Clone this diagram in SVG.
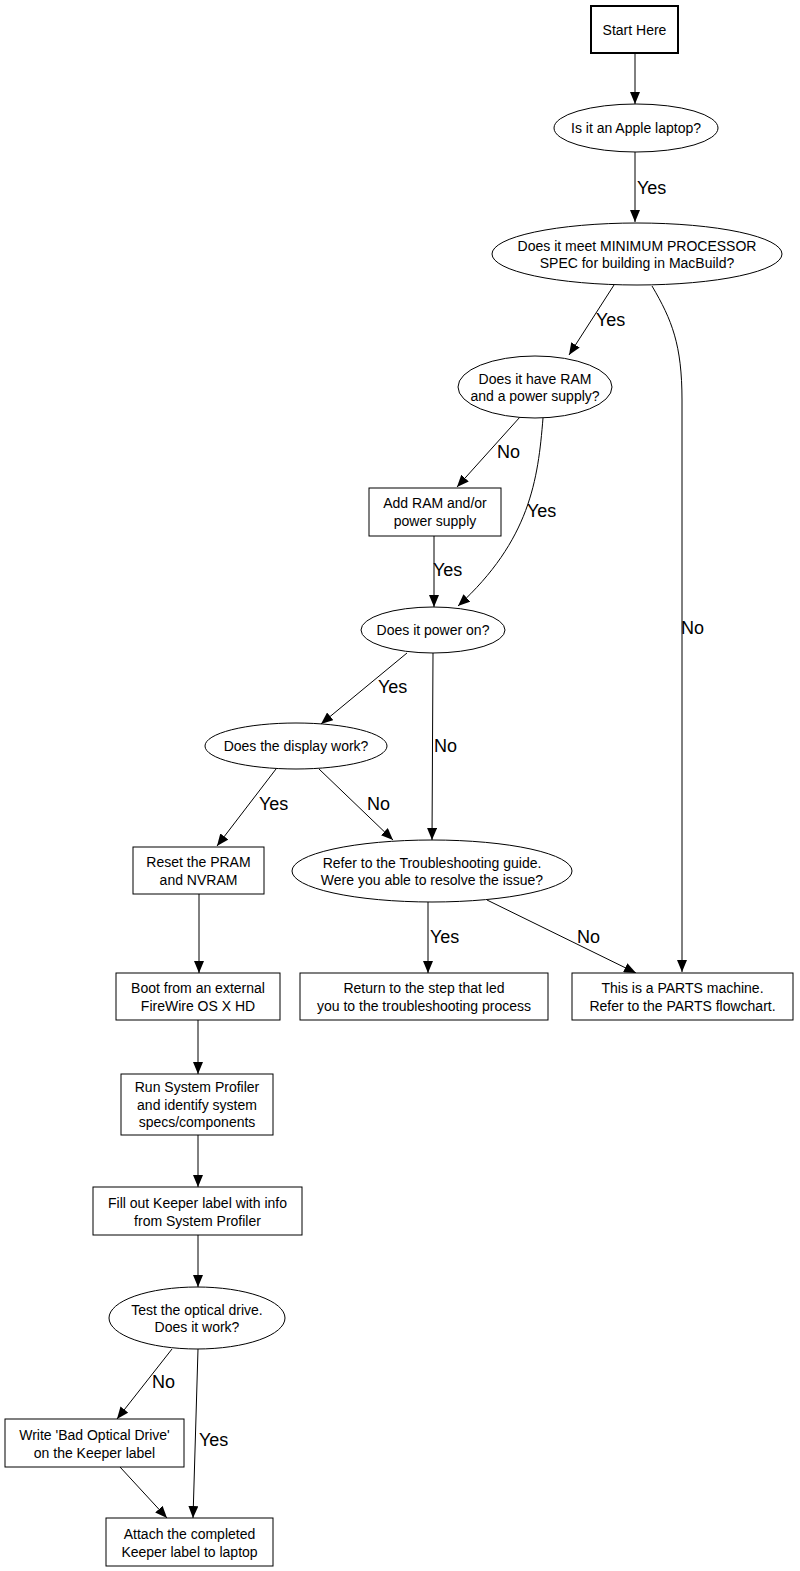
<svg xmlns="http://www.w3.org/2000/svg" width="800" height="1571" viewBox="0 0 800 1571">
<style>
.n{fill:#fff;stroke:#000;stroke-width:1}
.t{font-family:"Liberation Sans",Arial,sans-serif;font-size:14px;text-anchor:middle;fill:#000}
.l{font-family:"Liberation Sans",Arial,sans-serif;font-size:18px;fill:#000}
.e{fill:none;stroke:#000;stroke-width:1;marker-end:url(#a)}
</style>
<defs>
<marker id="a" viewBox="0 0 12 10" refX="12" refY="5" markerWidth="12" markerHeight="10" markerUnits="userSpaceOnUse" orient="auto">
<path d="M0,0 L12,5 L0,10 z" fill="#000"/>
</marker>
</defs>
<rect width="800" height="1571" fill="#fff"/>
<g id="edges">
<path class="e" d="M635,53 L635,104"/>
<path class="e" d="M635,152 L635,222"/>
<text class="l" x="637" y="194">Yes</text>
<path class="e" d="M614,285 L569,355"/>
<text class="l" x="596" y="326">Yes</text>
<path class="e" d="M652,286 C672,320 682,345 682,400 L682,972"/>
<text class="l" x="681" y="634">No</text>
<path class="e" d="M520,417 L457,487"/>
<text class="l" x="497" y="458">No</text>
<path class="e" d="M543,418 C538,480 530,540 458,606"/>
<text class="l" x="527" y="517">Yes</text>
<path class="e" d="M434,536 L434,607"/>
<text class="l" x="433" y="576">Yes</text>
<path class="e" d="M407,653 L321,724"/>
<text class="l" x="378" y="693">Yes</text>
<path class="e" d="M433,653 L432,840"/>
<text class="l" x="434" y="752">No</text>
<path class="e" d="M276,769 L217,846"/>
<text class="l" x="259" y="810">Yes</text>
<path class="e" d="M319,769 L393,840"/>
<text class="l" x="367" y="810">No</text>
<path class="e" d="M428,902 L428,973"/>
<text class="l" x="430" y="943">Yes</text>
<path class="e" d="M487,900 L636,973"/>
<text class="l" x="577" y="943">No</text>
<path class="e" d="M199,894 L199,973"/>
<path class="e" d="M198,1020 L198,1074"/>
<path class="e" d="M198,1135 L198,1187"/>
<path class="e" d="M198,1235 L198,1287"/>
<path class="e" d="M172,1349 L117,1419"/>
<text class="l" x="152" y="1388">No</text>
<path class="e" d="M198,1349 L193,1518"/>
<text class="l" x="199" y="1446">Yes</text>
<path class="e" d="M120,1467 L167,1518"/>
</g>
<g id="start"><rect class="n" x="591" y="6" width="87" height="47" stroke-width="2" style="stroke-width:2"/><text class="t" x="634.5" y="35">Start Here</text></g>
<g id="apple"><ellipse class="n" cx="636" cy="128" rx="82" ry="24"/><text class="t" x="636" y="133">Is it an Apple laptop?</text></g>
<g id="minspec"><ellipse class="n" cx="637" cy="254" rx="145" ry="31"/><text class="t" x="637" y="251">Does it meet MINIMUM PROCESSOR</text><text class="t" x="637" y="268">SPEC for building in MacBuild?</text></g>
<g id="ram"><ellipse class="n" cx="535" cy="387" rx="77" ry="31"/><text class="t" x="535" y="384">Does it have RAM</text><text class="t" x="535" y="401">and a power supply?</text></g>
<g id="addram"><rect class="n" x="369" y="488" width="132" height="48"/><text class="t" x="435" y="508">Add RAM and/or</text><text class="t" x="435" y="526">power supply</text></g>
<g id="poweron"><ellipse class="n" cx="433" cy="630" rx="72" ry="23"/><text class="t" x="433" y="635">Does it power on?</text></g>
<g id="display"><ellipse class="n" cx="296" cy="746" rx="91" ry="23"/><text class="t" x="296" y="751">Does the display work?</text></g>
<g id="trouble"><ellipse class="n" cx="432" cy="871" rx="140" ry="31"/><text class="t" x="432" y="868">Refer to the Troubleshooting guide.</text><text class="t" x="432" y="885">Were you able to resolve the issue?</text></g>
<g id="reset"><rect class="n" x="133" y="847" width="131" height="47"/><text class="t" x="198.5" y="867">Reset the PRAM</text><text class="t" x="198.5" y="885">and NVRAM</text></g>
<g id="return"><rect class="n" x="300" y="973" width="248" height="47"/><text class="t" x="424" y="993">Return to the step that led</text><text class="t" x="424" y="1011">you to the troubleshooting process</text></g>
<g id="parts"><rect class="n" x="572" y="973" width="221" height="47"/><text class="t" x="682.5" y="993">This is a PARTS machine.</text><text class="t" x="682.5" y="1011">Refer to the PARTS flowchart.</text></g>
<g id="boot"><rect class="n" x="116" y="973" width="164" height="47"/><text class="t" x="198" y="993">Boot from an external</text><text class="t" x="198" y="1011">FireWire OS X HD</text></g>
<g id="runsp"><rect class="n" x="121" y="1074" width="152" height="61"/><text class="t" x="197" y="1092">Run System Profiler</text><text class="t" x="197" y="1110">and identify system</text><text class="t" x="197" y="1127">specs/components</text></g>
<g id="fillout"><rect class="n" x="93" y="1187" width="209" height="48"/><text class="t" x="197.5" y="1208">Fill out Keeper label with info</text><text class="t" x="197.5" y="1226">from System Profiler</text></g>
<g id="optical"><ellipse class="n" cx="197" cy="1318" rx="88" ry="31"/><text class="t" x="197" y="1315">Test the optical drive.</text><text class="t" x="197" y="1332">Does it work?</text></g>
<g id="badoptical"><rect class="n" x="5" y="1419" width="179" height="48"/><text class="t" x="94.5" y="1440">Write 'Bad Optical Drive'</text><text class="t" x="94.5" y="1458">on the Keeper label</text></g>
<g id="attach"><rect class="n" x="106" y="1518" width="167" height="48"/><text class="t" x="189.5" y="1539">Attach the completed</text><text class="t" x="189.5" y="1557">Keeper label to laptop</text></g>
</svg>
